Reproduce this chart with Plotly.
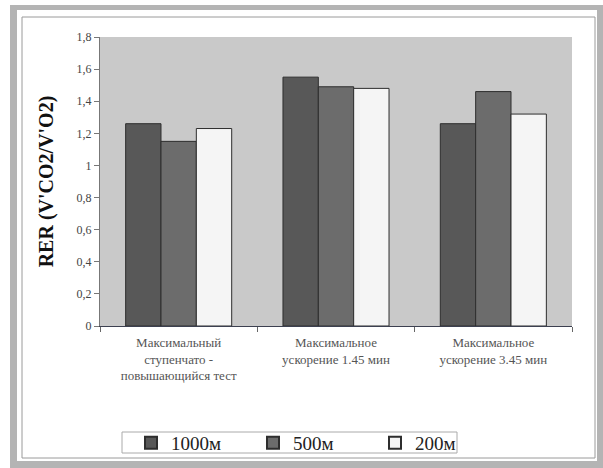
import plotly.graph_objects as go

# RER by test type and distance group
categories = [
    "Максимальный<br>ступенчато -<br>повышающийся тест",
    "Максимальное<br>ускорение 1.45 мин",
    "Максимальное<br>ускорение 3.45 мин",
]
series_names = ["1000м", "500м", "200м"]
rer_1000 = [1.26, 1.55, 1.26]
rer_500 = [1.15, 1.49, 1.46]
rer_200 = [1.23, 1.48, 1.32]
y_tick_values = [0, 0.2, 0.4, 0.6, 0.8, 1, 1.2, 1.4, 1.6, 1.8]

bar_colors = ["#585858", "#6c6c6c", "#f5f5f5"]

W, H = 603, 468
L, R, T, B = 100, 31, 37, 142
PW, PH = W - L - R, H - T - B


def px_x(px):
    return (px - L) / PW


def px_y(py):
    return (H - B - py) / PH


fig = go.Figure()
for name, vals, col in zip(series_names, [rer_1000, rer_500, rer_200], bar_colors):
    fig.add_trace(go.Bar(
        name=name, x=categories, y=vals,
        marker=dict(color=col, line=dict(color="#2e2e2e", width=1)),
    ))


def rect(x0, y0, x1, y1, **kw):
    return dict(type="rect", xref="paper", yref="paper",
                x0=px_x(x0), x1=px_x(x1), y0=px_y(y1), y1=px_y(y0), **kw)


shapes = []
# scanned page frame (dotted grey band)
band = "#b4b4b4"
for x0, y0, x1, y1 in [(10, 5, 17, 464), (10, 5, 603, 10), (597, 5, 603, 468), (10, 461, 603, 468)]:
    shapes.append(rect(x0, y0, x1, y1, fillcolor=band, line=dict(width=0), layer="below"))
# thin chart-area border
shapes.append(rect(22, 17, 595, 458, fillcolor="rgba(0,0,0,0)",
                   line=dict(color="#9a9a9a", width=1), layer="below"))
# legend frame
shapes.append(rect(122, 432, 457, 453, fillcolor="white",
                   line=dict(color="#aaaaaa", width=1), layer="below"))

fig.update_layout(
    width=W, height=H,
    margin=dict(l=L, r=R, t=T, b=B, pad=0, autoexpand=False),
    paper_bgcolor="white",
    plot_bgcolor="#c9c9c9",
    barmode="group", bargap=0.326, bargroupgap=0,
    separators=", ",
    font=dict(family="Liberation Serif", color="#333333"),
    showlegend=True,
    legend=dict(
        orientation="h", x=px_x(131), xanchor="left",
        y=px_y(443), yanchor="middle",
        bgcolor="rgba(0,0,0,0)", borderwidth=0,
        font=dict(family="Liberation Serif", size=19, color="#222222"),
        entrywidth=77, entrywidthmode="pixels",
        itemsizing="constant", tracegroupgap=0,
    ),
    shapes=shapes,
)

fig.update_xaxes(
    automargin=False,
    showline=True, linecolor="#3c4050", linewidth=1,
    ticks="outside", tickson="boundaries", ticklen=5, tickcolor="#666666",
    ticklabelstandoff=4,
    tickfont=dict(family="Liberation Serif", size=13, color="#555555"),
    showgrid=False, zeroline=False,
)
fig.update_yaxes(
    automargin=False,
    range=[0, 1.8], tickvals=y_tick_values,
    showline=True, linecolor="#777777", linewidth=1,
    ticks="outside", ticklen=5, tickcolor="#777777",
    tickfont=dict(family="Liberation Serif", size=12, color="#444444"),
    showgrid=False, zeroline=False,
    title=dict(text="<b>RER (V'CO2/V'O2)</b>", standoff=17,
               font=dict(family="Liberation Serif", size=20, color="#111111")),
)

fig.write_html("out.html")
